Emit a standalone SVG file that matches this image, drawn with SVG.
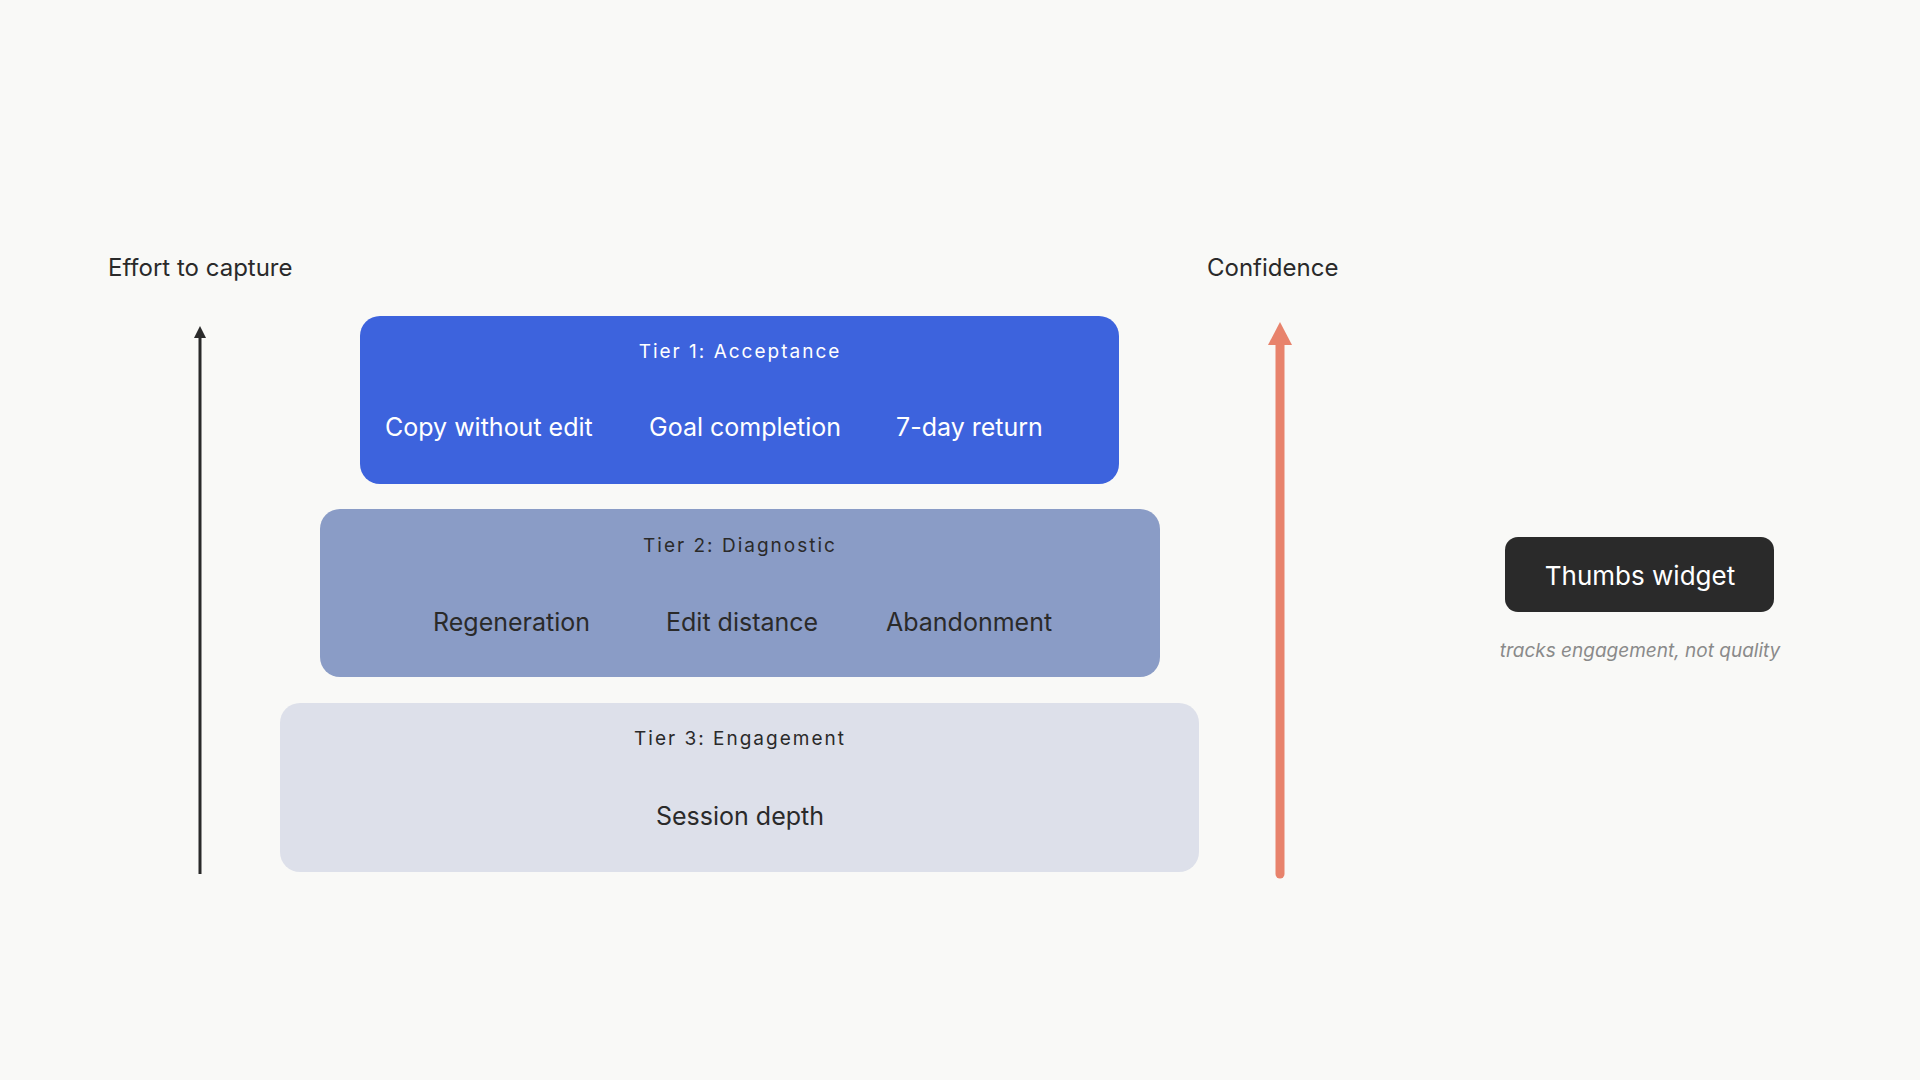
<svg xmlns="http://www.w3.org/2000/svg" width="1920" height="1080" viewBox="0 0 1920 1080">
<style>
text{font-family:Inter,"Noto Sans",sans-serif}
.ax{font-size:24px;fill:#2a2a2a}
.tl{font-size:19px;letter-spacing:2px;text-anchor:middle}
.it{font-size:25px}
</style>
<defs>
<marker id="ab" viewBox="0 0 10 10" refX="5" refY="8" markerWidth="5" markerHeight="5" orient="auto-start-reverse" markerUnits="userSpaceOnUse"><path d="M0,10 L5,0 L10,10Z" fill="#2a2a2a"/></marker>
</defs>
<rect width="1920" height="1080" fill="#f9f9f7"/>
<g id="connectors">
<line x1="200" y1="874" x2="200" y2="334" stroke="#2a2a2a" stroke-width="3"/>
<path d="M194,338 L200,326 L206,338Z" fill="#2a2a2a"/>
<line x1="1280" y1="874" x2="1280" y2="340" stroke="#e8836c" stroke-width="9" stroke-linecap="round"/>
<path d="M1268,345 L1280,322 L1292,345Z" fill="#e8836c"/>
</g>
<g id="labels">
<text class="ax" x="108" y="276">Effort to capture</text>
<text class="ax" x="1207" y="276">Confidence</text>
</g>
<g id="tier3">
<rect x="280" y="703" width="919" height="169" rx="20" fill="#dde0ea"/>
<text class="tl" x="740" y="745" fill="#2a2a2a">Tier 3: Engagement</text>
<text class="it" x="740" y="825" text-anchor="middle" fill="#2a2a2a">Session depth</text>
</g>
<g id="tier2">
<rect x="320" y="509" width="840" height="168" rx="20" fill="#8a9cc6"/>
<text class="tl" x="740" y="552" fill="#2a2a2a">Tier 2: Diagnostic</text>
<text class="it" x="433" y="631" fill="#2a2a2a">Regeneration</text>
<text class="it" x="666" y="631" fill="#2a2a2a">Edit distance</text>
<text class="it" x="886" y="631" fill="#2a2a2a">Abandonment</text>
</g>
<g id="tier1">
<rect x="360" y="316" width="759" height="168" rx="20" fill="#3d63dd"/>
<text class="tl" x="740" y="358" fill="#ffffff">Tier 1: Acceptance</text>
<text class="it" x="385" y="436" fill="#ffffff">Copy without edit</text>
<text class="it" x="649" y="436" fill="#ffffff">Goal completion</text>
<text class="it" x="896" y="436" fill="#ffffff">7-day return</text>
</g>
<g id="thumbs">
<rect x="1505" y="537" width="269" height="75" rx="13" fill="#2a2a2a"/>
<text x="1640" y="585" font-size="26" text-anchor="middle" fill="#ffffff">Thumbs widget</text>
<text x="1640" y="657" font-size="19" font-style="italic" text-anchor="middle" fill="#8a8a8a">tracks engagement, not quality</text>
</g>
</svg>
